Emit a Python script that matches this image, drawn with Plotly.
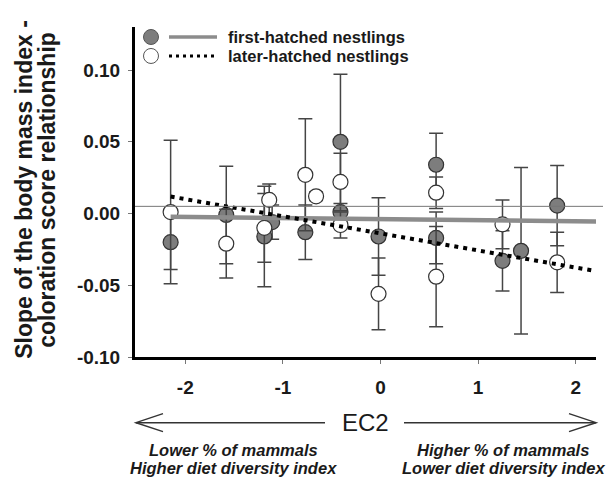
import plotly.graph_objects as go

# first-hatched nestlings (filled circles)
first_x = [-2.15, -1.58, -1.19, -1.11, -0.77, -0.41, -0.41, -0.02, 0.57, 0.57, 1.25, 1.44, 1.81]
first_y = [-0.020, -0.001, -0.016, -0.006, -0.013, 0.050, 0.001, -0.016, 0.034, -0.017, -0.033, -0.026, 0.0055]
first_err = [0.019, 0.034, 0.035, 0.012, 0.019, 0.047, 0.006, 0.027, 0.022, 0.018, 0.021, 0.058, 0.028]

# later-hatched nestlings (open circles)
later_x = [-2.15, -1.58, -1.19, -1.14, -0.77, -0.66, -0.41, -0.41, -0.02, 0.57, 0.57, 1.25, 1.81]
later_y = [0.001, -0.021, -0.010, 0.0095, 0.027, 0.012, 0.022, -0.008, -0.056, 0.0145, -0.044, -0.0075, -0.034]
later_err = [0.050, 0.024, 0.024, 0.011, 0.039, 0.003, 0.020, 0.009, 0.025, 0.011, 0.035, 0.017, 0.021]

# fitted lines
first_fit_x = [-2.15, 2.22]
first_fit_y = [-0.0022, -0.0056]
later_fit_x = [-2.15, 2.18]
later_fit_y = [0.0118, -0.0398]

ref_y = 0.005
x_ticks = [-2, -1, 0, 1, 2]
y_ticks = [-0.10, -0.05, 0.00, 0.05, 0.10]

FONT = "Liberation Sans, Arial, sans-serif"
FILL = "#7d7d7d"
EDGE = "#333333"

# plot area in pixels, used to place the decorations
L, R, T, B = 135, 596, 27, 357.3


def px(x):
    return (x - L) / (R - L)


def py(y):
    return (B - y) / (B - T)


fig = go.Figure()

fig.add_trace(go.Scatter(
    x=first_x, y=first_y, mode="markers",
    error_y=dict(type="data", array=first_err, color="#454545", thickness=1.5, width=7),
    marker=dict(size=15, color=FILL, line=dict(color=EDGE, width=1.2)),
    showlegend=False,
))
fig.add_trace(go.Scatter(
    x=later_x, y=later_y, mode="markers",
    error_y=dict(type="data", array=later_err, color="#454545", thickness=1.5, width=7),
    marker=dict(size=15, color="white", line=dict(color=EDGE, width=1.2)),
    showlegend=False,
))
fig.add_trace(go.Scatter(
    x=first_fit_x, y=first_fit_y, mode="lines",
    line=dict(color="#8c8c8c", width=4.5), showlegend=False,
))
fig.add_trace(go.Scatter(
    x=later_fit_x, y=later_fit_y, mode="lines",
    line=dict(color="black", width=4, dash="4px,5px"), showlegend=False,
))

shapes = [
    # thin reference line
    dict(type="line", xref="paper", yref="y", x0=0, x1=px(603), y0=ref_y, y1=ref_y,
         line=dict(color="#777777", width=1)),
    # legend symbols
    dict(type="circle", xref="paper", yref="paper", xsizemode="pixel", ysizemode="pixel",
         xanchor=px(151), yanchor=py(37), x0=-7.5, x1=7.5, y0=-7.5, y1=7.5,
         fillcolor=FILL, line=dict(color="#555555", width=1)),
    dict(type="circle", xref="paper", yref="paper", xsizemode="pixel", ysizemode="pixel",
         xanchor=px(151), yanchor=py(56), x0=-7.5, x1=7.5, y0=-7.5, y1=7.5,
         fillcolor="white", line=dict(color="#555555", width=1)),
    dict(type="line", xref="paper", yref="paper", x0=px(169), x1=px(217), y0=py(37), y1=py(37),
         line=dict(color="#8c8c8c", width=3.5)),
    dict(type="line", xref="paper", yref="paper", x0=px(169), x1=px(217), y0=py(56), y1=py(56),
         line=dict(color="black", width=3, dash="3px,4px")),
    # EC2 arrows
    dict(type="line", xref="paper", yref="paper", x0=px(136), x1=px(325), y0=py(423), y1=py(423),
         line=dict(color="#333333", width=1.5)),
    dict(type="path", xref="paper", yref="paper",
         path=f"M {px(163)},{py(414)} L {px(136)},{py(423)} L {px(163)},{py(432)}",
         line=dict(color="#333333", width=1.5)),
    dict(type="line", xref="paper", yref="paper", x0=px(404), x1=px(596), y0=py(423), y1=py(423),
         line=dict(color="#333333", width=1.5)),
    dict(type="path", xref="paper", yref="paper",
         path=f"M {px(569)},{py(414)} L {px(596)},{py(423)} L {px(569)},{py(432)}",
         line=dict(color="#333333", width=1.5)),
]


def note(text, x, y, size, xanchor="center", angle=0, weight="bold", style="normal"):
    return dict(text=text, xref="paper", yref="paper", x=px(x), y=py(y),
                xanchor=xanchor, yanchor="middle", showarrow=False, textangle=angle,
                font=dict(family=FONT, size=size, color="#1a1a1a", weight=weight, style=style))


annotations = [
    note("first-hatched nestlings", 226, 37, 16.5, xanchor="left"),
    note("later-hatched nestlings", 226, 56, 16.5, xanchor="left"),
    note("Slope of the body mass index -", 24, 190, 23, angle=-90),
    note("coloration score relationship", 47, 190, 23, angle=-90),
    note("EC2", 365, 423, 24, weight="normal"),
    note("Lower % of mammals", 233, 450, 16.5, style="italic"),
    note("Higher diet diversity index", 233, 468, 16.5, style="italic"),
    note("Higher % of mammals", 503, 450, 16.5, style="italic"),
    note("Lower diet diversity index", 503, 468, 16.5, style="italic"),
]

fig.update_layout(
    width=607, height=479,
    margin=dict(l=L, r=607 - R, t=T, b=479 - B),
    paper_bgcolor="white", plot_bgcolor="white",
    shapes=shapes, annotations=annotations,
    xaxis=dict(
        range=[-2.515, 2.208], tickvals=x_ticks, ticktext=[str(v) for v in x_ticks],
        showgrid=False, zeroline=False, showline=True, linecolor="black", linewidth=3,
        ticks="outside", ticklen=4, tickcolor="#777777", tickwidth=1,
        ticklabelstandoff=7,
        tickfont=dict(family=FONT, size=19, color="#1a1a1a", weight="bold"),
    ),
    yaxis=dict(
        range=[-0.10, 0.13], tickvals=y_ticks, ticktext=[f"{v:.2f}" for v in y_ticks],
        showgrid=False, zeroline=False, showline=True, linecolor="black", linewidth=3,
        ticks="outside", ticklen=4, tickcolor="#777777", tickwidth=1,
        ticklabelstandoff=4,
        tickfont=dict(family=FONT, size=19, color="#1a1a1a", weight="bold"),
    ),
)

# the page body has a default margin; drop it so the figure fills the window
fig.write_html("out.html", config={"displayModeBar": False},
               post_script="document.body.style.margin = '0px';")
